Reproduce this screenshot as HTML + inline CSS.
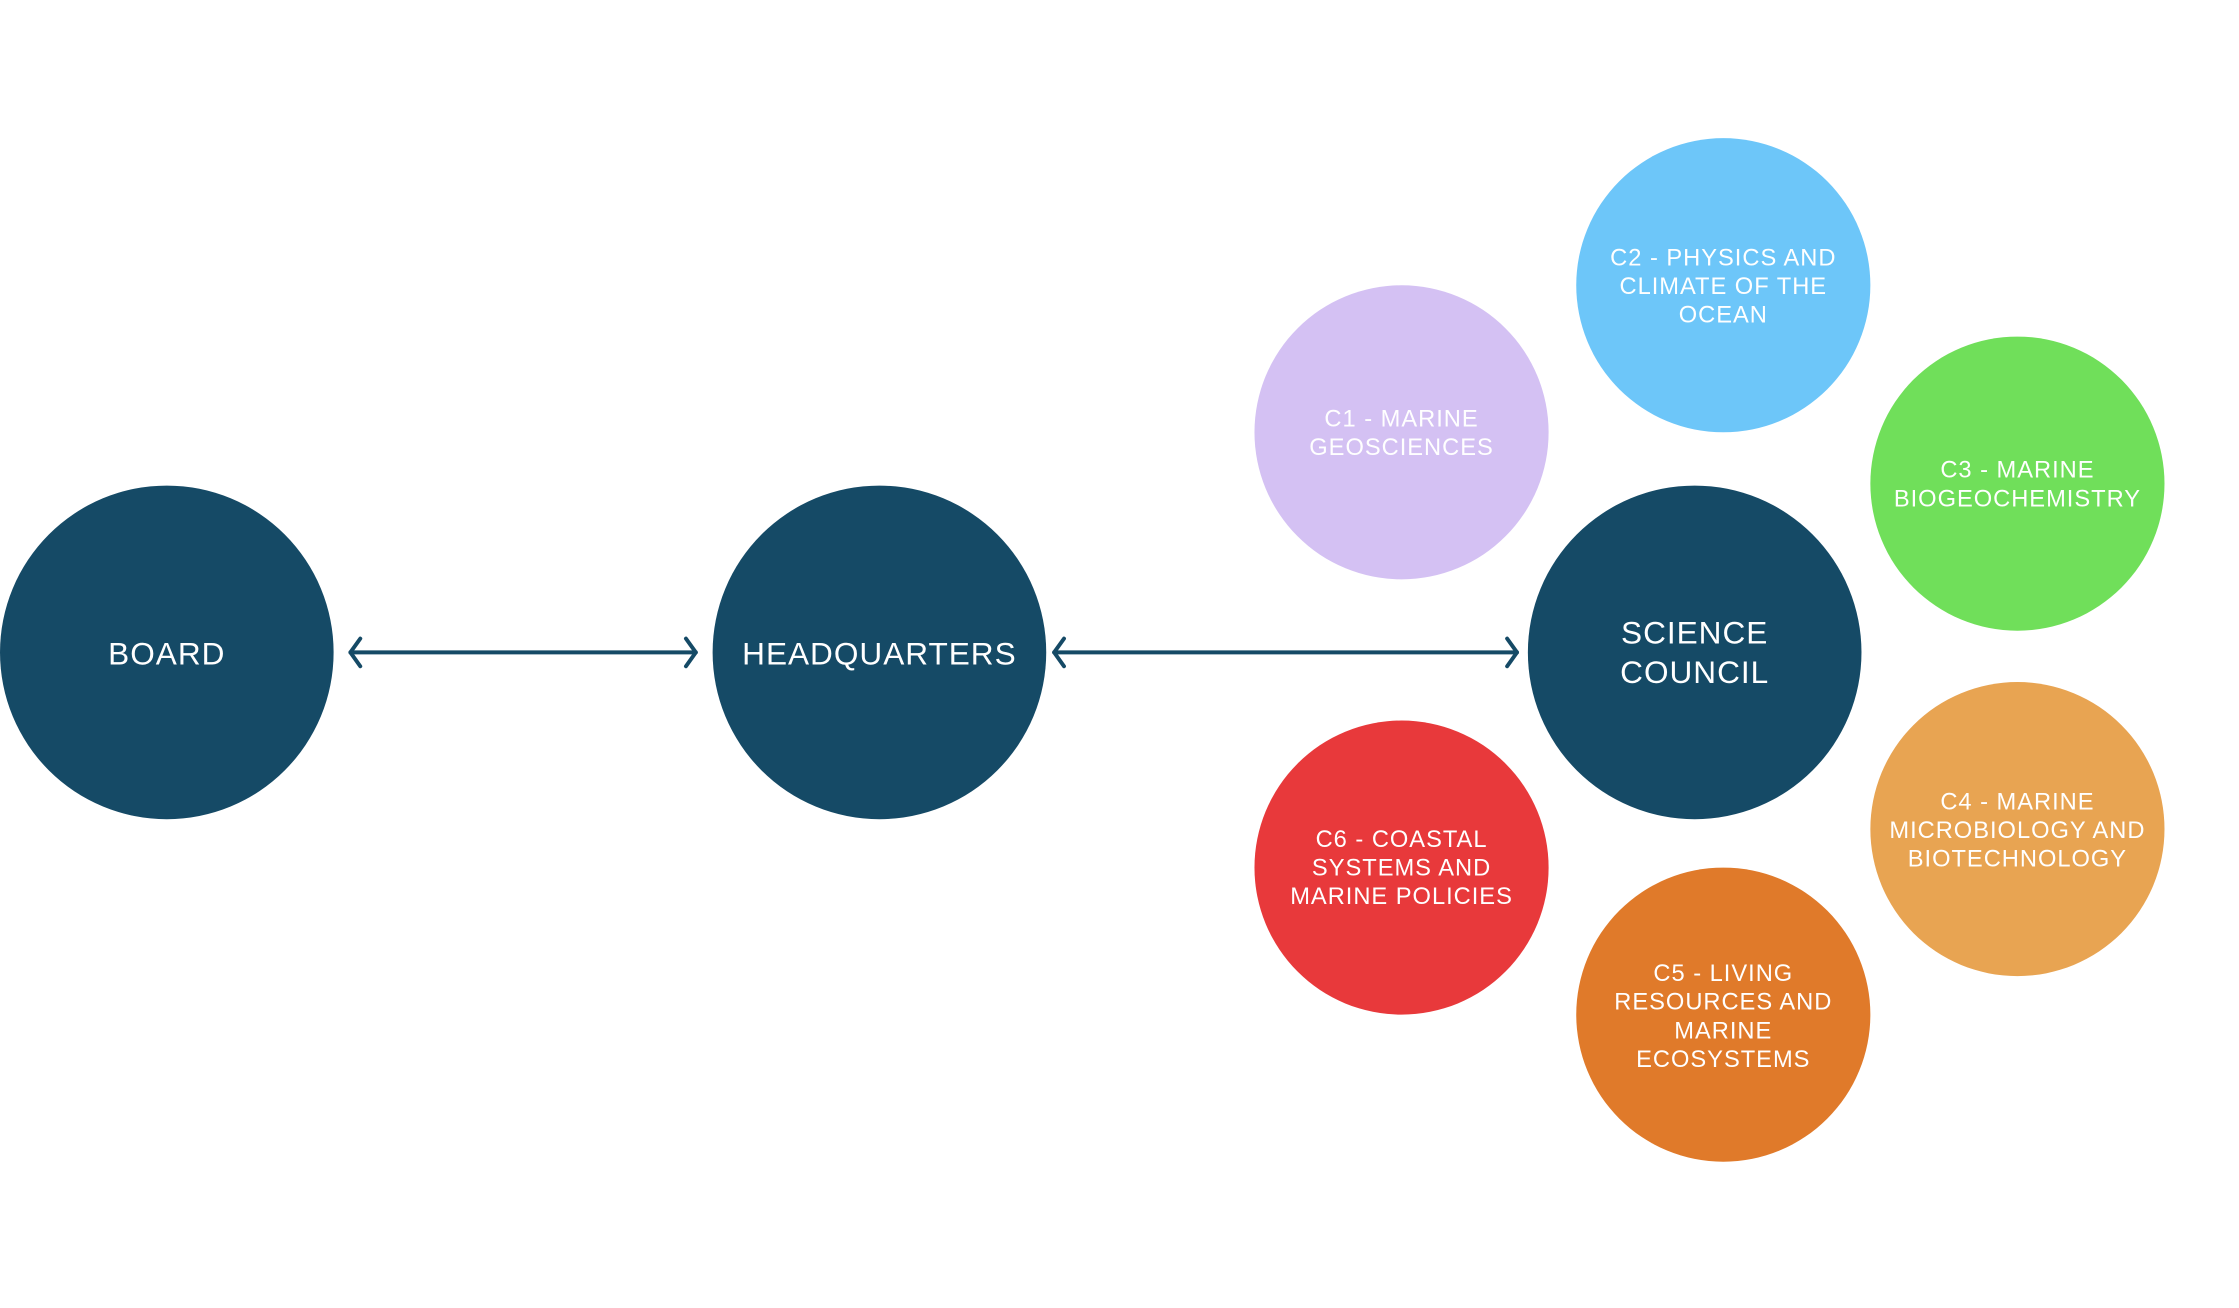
<!DOCTYPE html>
<html><head><meta charset="utf-8"><style>
body{margin:0;background:#fff}
svg text{font-family:"Liberation Sans",sans-serif;fill:#fff;text-anchor:middle}
</style></head><body>
<svg width="2239" height="1303" viewBox="0 0 2239 1303" xmlns="http://www.w3.org/2000/svg">
<rect width="2239" height="1303" fill="#fff"/>
<g transform="scale(0.987)">
<g fill="#154a66">
<circle cx="169" cy="661" r="169"/>
<circle cx="891" cy="661" r="169"/>
<circle cx="1717" cy="661" r="169"/>
</g>
<circle cx="1420" cy="438" r="149" fill="#d4c1f3"/>
<circle cx="1746" cy="289" r="149" fill="#6dc6f9"/>
<circle cx="2044" cy="490" r="149" fill="#70df5a"/>
<circle cx="2044" cy="840" r="149" fill="#e8a452"/>
<circle cx="1746" cy="1028" r="149" fill="#e07a2a"/>
<circle cx="1420" cy="879" r="149" fill="#e8393b"/>
<g stroke="#154a66" stroke-width="4" fill="none" stroke-linecap="round" stroke-linejoin="round">
<line x1="355" y1="661" x2="705" y2="661"/>
<polyline points="365,647 355,661 365,675"/>
<polyline points="695,647 705,661 695,675"/>
<line x1="1068" y1="661" x2="1537" y2="661"/>
<polyline points="1078,647 1068,661 1078,675"/>
<polyline points="1527,647 1537,661 1527,675"/>
</g>
<text x="169" y="673" font-size="32" letter-spacing="1">BOARD</text>
<text x="891" y="673" font-size="32" letter-spacing="1">HEADQUARTERS</text>
<text x="1717" y="652" font-size="32" letter-spacing="1">SCIENCE</text>
<text x="1717" y="692" font-size="32" letter-spacing="1">COUNCIL</text>
<g font-size="24" letter-spacing="1">
<text x="1420" y="432">C1 - MARINE</text>
<text x="1420" y="461">GEOSCIENCES</text>
<text x="1746" y="269">C2 - PHYSICS AND</text>
<text x="1746" y="298">CLIMATE OF THE</text>
<text x="1746" y="327">OCEAN</text>
<text x="2044" y="484">C3 - MARINE</text>
<text x="2044" y="513">BIOGEOCHEMISTRY</text>
<text x="2044" y="820">C4 - MARINE</text>
<text x="2044" y="849">MICROBIOLOGY AND</text>
<text x="2044" y="878">BIOTECHNOLOGY</text>
<text x="1746" y="994">C5 - LIVING</text>
<text x="1746" y="1023">RESOURCES AND</text>
<text x="1746" y="1052">MARINE</text>
<text x="1746" y="1081">ECOSYSTEMS</text>
<text x="1420" y="858">C6 - COASTAL</text>
<text x="1420" y="887">SYSTEMS AND</text>
<text x="1420" y="916">MARINE POLICIES</text>
</g>
</g>
</svg>
</body></html>
